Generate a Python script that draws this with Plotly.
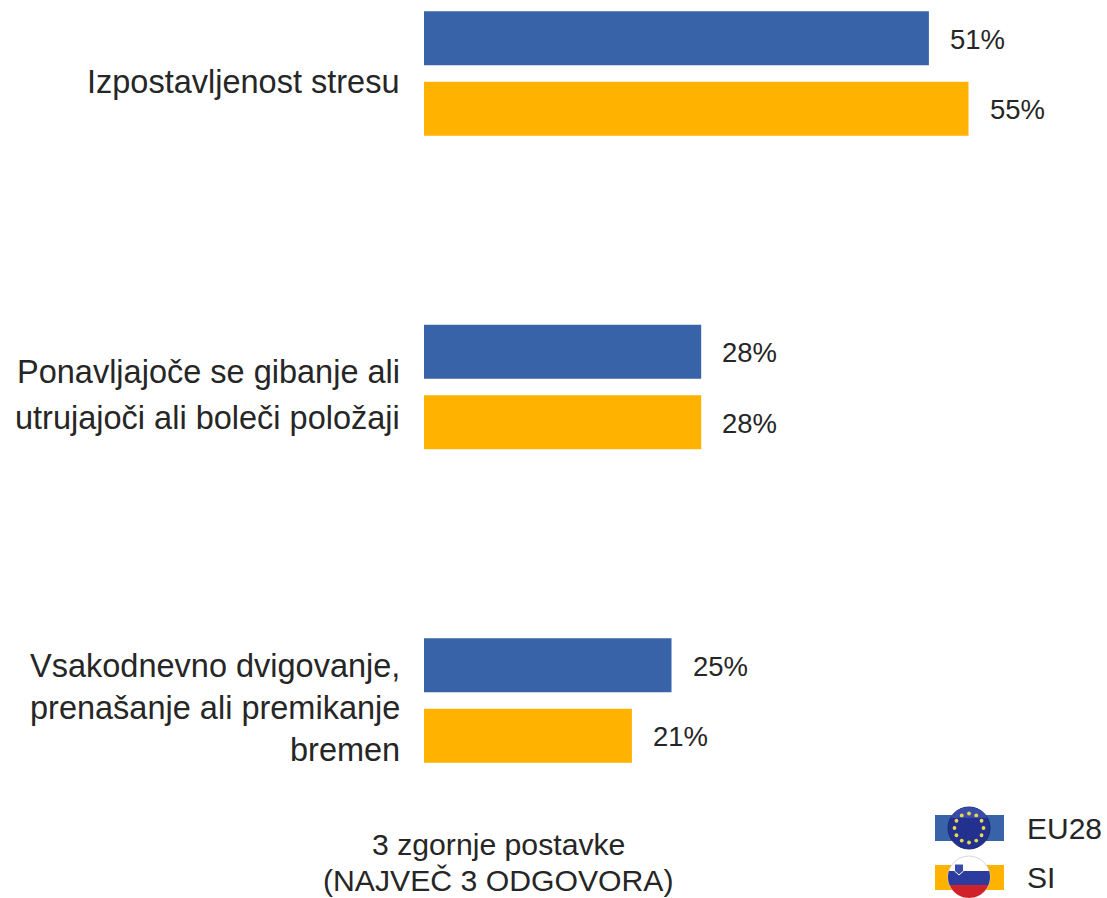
import math
import plotly.graph_objects as go

W, H = 1107, 898
categories = ["Izpostavljenost stresu", "Ponavljajoče se gibanje ali utrujajoči ali boleči položaji",
              "Vsakodnevno dvigovanje, prenašanje ali premikanje bremen"]
label_lines = [
    [("Izpostavljenost stresu", 82)],
    [("Ponavljajoče se gibanje ali", 372), ("utrujajoči ali boleči položaji", 418)],
    [("Vsakodnevno dvigovanje,", 666), ("prenašanje ali premikanje", 708), ("bremen", 750)],
]
eu28 = [51, 28, 25]
si = [55, 28, 21]
series_names = ["EU28", "SI"]
BLUE, ORANGE = "#3863A9", "#FFB200"
TEXT = "#262626"
FONT = "Liberation Sans"

fig = go.Figure()
ypos = [0, 1, 2]
for name, vals, col in [(series_names[0], eu28, BLUE), (series_names[1], si, ORANGE)]:
    fig.add_trace(go.Bar(name=name, y=ypos, x=vals, orientation="h", marker=dict(color=col, line_width=0),
                         hovertemplate="%{x}%<extra>" + name + "</extra>"))

def px(x): return x / W
def py(y): return 1 - y / H

ann = []
slot = 70.5 / 313.5
for i in range(3):
    for vals, off in ((eu28, -slot / 2), (si, slot / 2)):
        ann.append(dict(x=vals[i], y=i + off, xref="x", yref="y", text=f"{vals[i]}%", showarrow=False,
                        xanchor="left", yanchor="middle", xshift=19, yshift=-1, font=dict(size=27.5, color=TEXT, family=FONT)))
for lines in label_lines:
    for t, y in lines:
        ann.append(dict(x=px(402), y=py(y), xref="paper", yref="paper", text=t, showarrow=False,
                        xanchor="right", yanchor="middle", font=dict(size=32.5, color=TEXT, family=FONT)))
for t, y in [("3 zgornje postavke", 844), ("(NAJVEČ 3 ODGOVORA)", 880)]:
    ann.append(dict(x=px(498), y=py(y), xref="paper", yref="paper", text=t, showarrow=False,
                    xanchor="center", yanchor="middle", font=dict(size=30.2, color=TEXT, family=FONT)))
for t, y in [(series_names[0], 828), (series_names[1], 877)]:
    ann.append(dict(x=px(1025), y=py(y), xref="paper", yref="paper", text=t, showarrow=False,
                    xanchor="left", yanchor="middle", font=dict(size=30, color=TEXT, family=FONT)))

shapes = []
def rect(x0, y0, x1, y1, c):
    shapes.append(dict(type="rect", xref="paper", yref="paper", x0=px(x0), x1=px(x1), y0=py(y0), y1=py(y1),
                       fillcolor=c, line_width=0))
def circ(cx, cy, r, c, lw=0, lc="rgba(0,0,0,0)"):
    shapes.append(dict(type="circle", xref="paper", yref="paper", x0=px(cx - r), x1=px(cx + r), y0=py(cy + r), y1=py(cy - r),
                       fillcolor=c, line=dict(width=lw, color=lc)))
def seg(cx, cy, r, y0, y1, c):
    pts = []
    n = 16
    for k in range(n + 1):
        y = y0 + (y1 - y0) * k / n
        pts.append((cx - math.sqrt(max(r * r - (y - cy) ** 2, 0)), y))
    for k in range(n, -1, -1):
        y = y0 + (y1 - y0) * k / n
        pts.append((cx + math.sqrt(max(r * r - (y - cy) ** 2, 0)), y))
    d = "M" + " L".join(f"{px(a):.5f},{py(b):.5f}" for a, b in pts) + " Z"
    shapes.append(dict(type="path", xref="paper", yref="paper", path=d, fillcolor=c, line_width=0))

rect(935, 815, 1004, 841, BLUE)
rect(935, 865, 1004, 890, ORANGE)
circ(969, 828, 21, "#22308F", 1, "#1B2A6B")
seg(969, 828, 21, 807, 818, "#3A4AA8")
for k in range(12):
    a = k * math.pi / 6
    circ(969 + 14.5 * math.cos(a), 828 + 14.5 * math.sin(a), 1.9, "#E8D84A")
circ(969, 877, 21, "#FFFFFF", 1, "#D8D8D8")
seg(969, 877, 21, 871, 885, "#2B3C9E")
seg(969, 877, 21, 885, 898, "#D0202A")
shapes.append(dict(type="path", xref="paper", yref="paper",
                   path=f"M{px(954.5)},{py(864)} L{px(963.5)},{py(864)} L{px(963.5)},{py(871)} L{px(959)},{py(875)} L{px(954.5)},{py(871)} Z",
                   fillcolor="#3A4CA8", line=dict(width=1, color="#FFFFFF")))

fig.update_layout(
    width=W, height=H, margin=dict(l=0, r=0, t=0, b=0),
    paper_bgcolor="white", plot_bgcolor="white", showlegend=False,
    barmode="group", bargap=0.55, bargroupgap=0.235,
    xaxis=dict(domain=[424 / W, 1], range=[0, (W - 424) / 9.9], visible=False, fixedrange=True),
    yaxis=dict(range=[(H - 73.5) / 313.5, -73.5 / 313.5], visible=False, fixedrange=True),
    annotations=ann, shapes=shapes,
)
fig.write_html("out.html", config=dict(displayModeBar=False),
               post_script="document.body.style.margin='0';document.documentElement.style.overflow='hidden';")
